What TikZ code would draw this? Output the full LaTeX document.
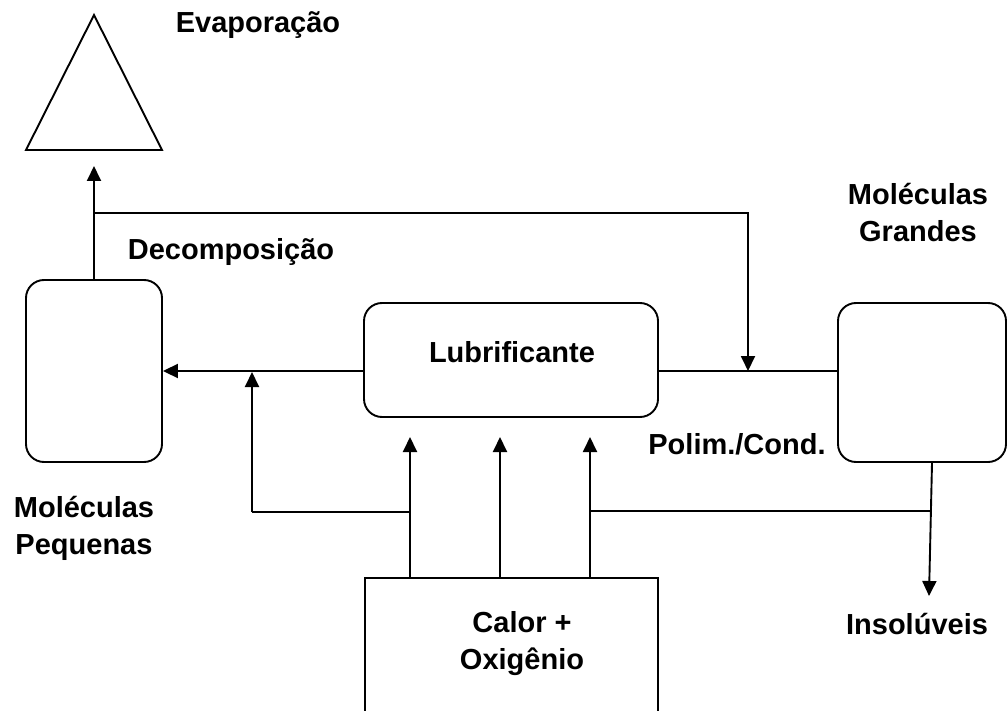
\documentclass[tikz,border=0pt]{standalone}
\usepackage{fontspec}
\setmainfont{Liberation Sans}
\usetikzlibrary{arrows.meta}
\begin{document}
\begin{tikzpicture}[x=1pt,y=-1pt,
  line width=1.9pt,
  arr/.style={-{Triangle[length=15pt,width=14pt]}},
  rbox/.style={draw,rounded corners=18pt,inner sep=0pt},
  sbox/.style={draw,inner sep=0pt},
  lbl/.style={font=\fontsize{29pt}{37pt}\selectfont\bfseries,align=center,inner sep=0pt}]
\useasboundingbox (0,0) rectangle (1008,711);
% shapes
\draw[line join=miter] (94,15) -- (26,150) -- (162,150) -- cycle;
\coordinate (tri) at (94,166);
\node[rbox,minimum width=136pt,minimum height=182pt] (small) at (94,371) {};
\node[rbox,minimum width=294pt,minimum height=114pt] (lub) at (511,360) {};
\node[rbox,minimum width=168pt,minimum height=159pt] (big) at (922,382.5) {};
\node[sbox,minimum width=293pt,minimum height=162pt] (heat) at (511.5,659) {};
% labels
\node[lbl] (tevap) at (258,25) {Evaporação};
\node[lbl] (tdec) at (231,252) {Decomposição};
\node[lbl] (tlub) at (512,352) {Lubrificante};
\node[lbl] (tbig) at (918,213) {Moléculas\\Grandes};
\node[lbl] (tpol) at (737,444) {Polim./Cond.};
\node[lbl] (tsmall) at (84,528) {Moléculas\\Pequenas};
\node[lbl] (theat) at (522,644) {Calor +\\Oxigênio};
\node[lbl] (tins) at (917,624) {Insolúveis};
% coordinates
\coordinate (j1) at (94,213);
\coordinate (j2) at (748,371);
\coordinate (c1) at (252,512);
\coordinate (h1) at (410,437);
\coordinate (h2) at (500,437);
\coordinate (h3) at (590,437);
\coordinate (r1) at (590,511);
\coordinate (r2) at (931,511);
\coordinate (ins) at (929,596);
% connectors
\draw[arr] (small.north) -- (tri);
\draw[arr] (j1) -| (j2);
\draw[arr] (lub.west |- small.east) -- (small.east);
\draw (lub.east |- small.east) -- (big.west |- small.east);
\draw[arr] (c1) -- (252,372);
\draw (c1) -- (h1 |- c1);
\draw[arr] (heat.north -| h1) -- (h1);
\draw[arr] (heat.north -| h2) -- (h2);
\draw[arr] (heat.north -| h3) -- (h3);
\draw (r1) -- (r2);
\draw[arr] (big.south -| 932,0) -- (ins);
\end{tikzpicture}
\end{document}
